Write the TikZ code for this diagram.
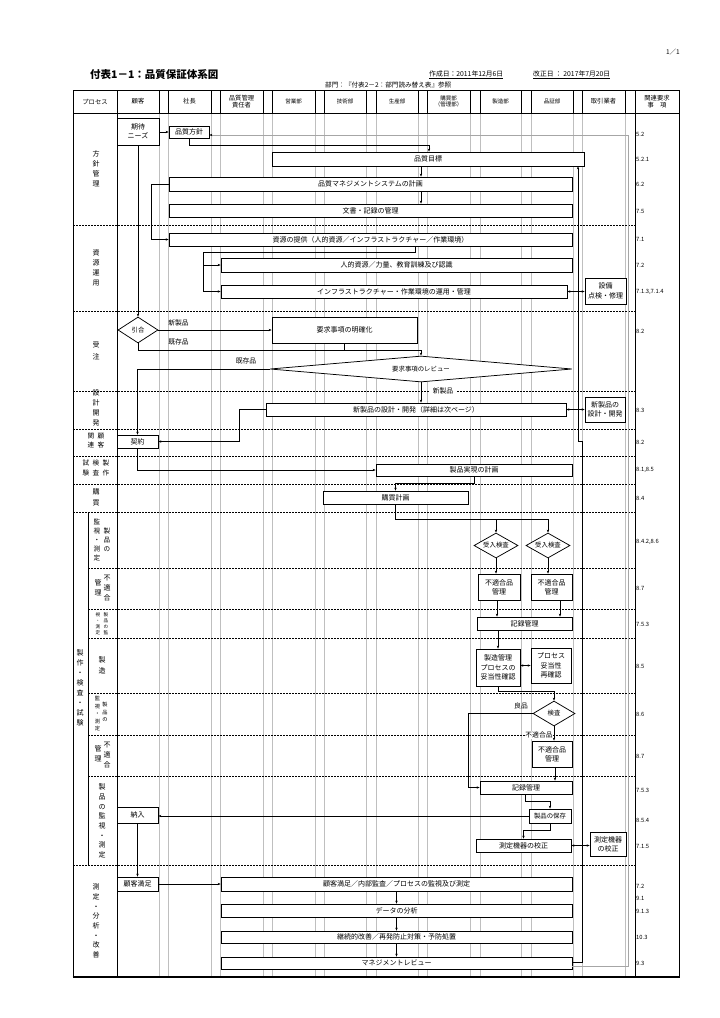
\documentclass[tikz,border=0pt]{standalone}
\usepackage{fontspec}
\setmainfont{Noto Sans CJK JP}
\usetikzlibrary{arrows.meta,shapes.geometric}
\begin{document}
\begin{tikzpicture}[x=1pt,y=-1pt,
  bx/.style={draw,line width=0.75pt,fill=white,inner sep=0pt,align=center,font=\fontsize{7}{9.3}\selectfont},
  dm/.style={bx,shape=diamond,font=\fontsize{6.4}{7}\selectfont},
  sz/.style 2 args={minimum width=#1pt,minimum height=#2pt},
  arr/.style={line width=0.55pt,-{Stealth[length=3pt,width=2.4pt]}},
  darr/.style={line width=0.55pt,{Stealth[length=3pt,width=2.4pt]}-{Stealth[length=3pt,width=2.4pt]}},
  garr/.style={gray!70,line width=0.55pt,-{Stealth[length=3pt,width=2.4pt,black]}},
  ln/.style={line width=0.55pt},
  sep/.style={dash pattern=on 2pt off 1pt,line width=0.6pt},
  vl/.style={gray!50,line width=0.4pt},
  lbl/.style={inner sep=0.5pt,font=\fontsize{6.8}{7}\selectfont},
  req/.style={anchor=west,inner sep=0pt,font=\fontsize{5.8}{6}\selectfont},
  vt/.style={inner sep=0pt,align=center,font=\fontsize{7}{10}\selectfont},
  hd/.style={inner sep=0pt,align=center,font=\fontsize{6.3}{7.5}\selectfont},
  hds/.style={hd,font=\fontsize{5.5}{6.8}\selectfont}
]
\useasboundingbox (0,0) rectangle (720,1018);
\fill[white] (0,0) rectangle (720,1018);

% ---- grid ----
\foreach \x in {159,168,211,220,263,272,315,324,366,376,418,427,470,480,521,531,573,582,625} {
  \draw[vl] (\x,113) -- (\x,977);
  \draw[line width=0.4pt] (\x,90) -- (\x,113);
}
\foreach \y in {225,311,391,429,456,484,512,865} \draw[sep] (73,\y) -- (635,\y);
\foreach \y in {568,609,638,693,735,776} \draw[sep] (88,\y) -- (635,\y);
\draw[line width=0.6pt] (88,512) -- (88,865);
\draw[line width=1pt] (73,90) rectangle (679,977);
\draw[line width=1.8pt] (72.5,977) -- (679.5,977);
\draw[line width=1pt] (73,113) -- (679,113);
\draw[line width=1pt] (117,90) -- (117,977);
\draw[line width=1pt] (635,90) -- (635,977);

% ---- top texts ----
\node[anchor=east,inner sep=0pt,font=\fontsize{6.5}{7}\selectfont] (pg) at (680,52) {1／1};
\node[anchor=west,inner sep=0pt,font=\bfseries\fontsize{10.5}{11}\selectfont] (title) at (90,75) {付表1－1：品質保証体系図};
\node[anchor=west,inner sep=0pt,font=\fontsize{6.8}{7}\selectfont] (made) at (429,75) {\underline{作成日：2011年12月6日}};
\node[anchor=west,inner sep=0pt,font=\fontsize{6.8}{7}\selectfont] (rev) at (533,75) {\underline{改正日 ： 2017年7月20日}};
\node[anchor=west,inner sep=0pt,font=\fontsize{6.6}{7}\selectfont] (dept) at (325,85) {部門：『付表2－2：部門読み替え表』参照};

% ---- header ----
\node[hd] (hproc) at (95,101.5) {プロセス};
\node[hd] (hcust) at (138,101.5) {顧客};
\node[hd] (hpres) at (189.5,101.5) {社長};
\node[hd] (hqm) at (241.5,101.5) {品質管理\\責任者};
\node[hds] (hsales) at (293.5,101.5) {営業部};
\node[hds] (htech) at (345,101.5) {技術部};
\node[hds] (hprod) at (397,101.5) {生産部};
\node[hds] (hpur) at (448.5,101.5) {購買部\\（管理部）};
\node[hds] (hmfg) at (500.5,101.5) {製造部};
\node[hds] (hqa) at (552,101.5) {品証部};
\node[hd] (hven) at (603.5,101.5) {取引業者};
\node[hd] (hreq) at (657,101.5) {関連要求\\事　項};

% ---- left labels ----
\node[vt] (lhoshin) at (96,169) {方\\針\\管\\理};
\node[vt] (lshigen) at (96,268) {資\\源\\運\\用};
\node[vt,font=\fontsize{7}{12}\selectfont] (ljuchu) at (96,351) {受\\注};
\node[vt] (lsekkei) at (96,408) {設\\計\\開\\発};
\node[vt,font=\fontsize{6.6}{9}\selectfont] (lkk1) at (91,440.5) {関\\連};
\node[vt,font=\fontsize{6.6}{9}\selectfont] (lkk2) at (101,440.5) {顧\\客};
\node[vt,font=\fontsize{6.6}{9.5}\selectfont] (lsk1) at (86,468) {試\\験};
\node[vt,font=\fontsize{6.6}{9.5}\selectfont] (lsk2) at (96,468) {検\\査};
\node[vt,font=\fontsize{6.6}{9.5}\selectfont] (lsk3) at (106,468) {製\\作};
\node[vt,font=\fontsize{7}{11}\selectfont] (lkobai) at (96,497.5) {購\\買};
\node[vt,font=\fontsize{6.6}{9}\selectfont] (lkan1a) at (97,540) {監\\視\\・\\測\\定};
\node[vt,font=\fontsize{6.6}{9}\selectfont] (lkan1b) at (107,540) {製\\品\\の};
\node[vt,font=\fontsize{7}{10}\selectfont] (lnc1a) at (98,588) {管\\理};
\node[vt,font=\fontsize{7}{10}\selectfont] (lnc1b) at (107,588) {不\\適\\合};
\node[vt,font=\fontsize{4.6}{6}\selectfont] (lkan2a) at (98,623.5) {視\\・\\測\\定};
\node[vt,font=\fontsize{4.6}{6}\selectfont] (lkan2b) at (106,623.5) {製\\品\\の\\監};
\node[vt,font=\fontsize{7}{11}\selectfont] (lseizo) at (102,665.5) {製\\造};
\node[vt,font=\fontsize{5.2}{7.5}\selectfont] (lkan3a) at (97.5,714) {監\\視\\・\\測\\定};
\node[vt,font=\fontsize{5.2}{7.5}\selectfont] (lkan3b) at (105,712) {製\\品\\の};
\node[vt,font=\fontsize{7}{10}\selectfont] (lnc2a) at (98,754) {管\\理};
\node[vt,font=\fontsize{7}{10}\selectfont] (lnc2b) at (107,755) {不\\適\\合};
\node[vt,font=\fontsize{7}{9.7}\selectfont] (lkan4) at (102,821) {製\\品\\の\\監\\視\\・\\測\\定};
\node[vt] (lsaku) at (80,688) {製\\作\\・\\検\\査\\・\\試\\験};
\node[vt,font=\fontsize{7}{9.7}\selectfont] (lsoku) at (96,921) {測\\定\\・\\分\\析\\・\\改\\善};

% ---- requirement numbers ----
\node[req] (r1) at (636,134) {5.2};
\node[req] (r2) at (636,159) {5.2.1};
\node[req] (r3) at (636,184) {6.2};
\node[req] (r4) at (636,211) {7.5};
\node[req] (r5) at (636,239) {7.1};
\node[req] (r6) at (636,265.5) {7.2};
\node[req] (r7) at (636,291.5) {7.1.3,7.1.4};
\node[req] (r8) at (636,331) {8.2};
\node[req] (r9) at (636,410.5) {8.3};
\node[req] (r10) at (636,442.5) {8.2};
\node[req] (r11) at (636,470) {8.1,8.5};
\node[req] (r12) at (636,498.5) {8.4};
\node[req] (r13) at (636,541.5) {8.4.2,8.6};
\node[req] (r14) at (636,588) {8.7};
\node[req] (r15) at (636,624) {7.5.3};
\node[req] (r16) at (636,666) {8.5};
\node[req] (r17) at (636,714) {8.6};
\node[req] (r18) at (636,756) {8.7};
\node[req] (r19) at (636,790) {7.5.3};
\node[req] (r20) at (636,820) {8.5.4};
\node[req] (r21) at (636,846) {7.1.5};
\node[req] (r22) at (636,886) {7.2};
\node[req] (r23) at (636,898) {9.1};
\node[req] (r24) at (636,911) {9.1.3};
\node[req] (r25) at (636,937) {10.3};
\node[req] (r26) at (636,963) {9.3};

% ---- connector labels ----
\node[lbl] (l1) at (178.5,323) {新製品};
\node[lbl] (l2) at (178.5,342) {既存品};
\node[lbl] (l3) at (246,361) {既存品};
\node[lbl,fill=white,inner xsep=4pt] (l4) at (443,391) {新製品};
\node[lbl] (l5) at (521,706) {良品};
\node[lbl,fill=white] (l6) at (539,735) {不適合品};

% ---- boxes ----
\node[bx,sz={42}{27}] (needs) at (138,131.5) {期待\\ニーズ};
\node[bx,sz={40}{12}] (policy) at (189,132) {品質方針};
\node[bx,sz={312}{14}] (goal) at (428,159) {品質目標};
\node[bx,sz={403}{14}] (qms) at (370.5,184) {品質マネジメントシステムの計画};
\node[bx,sz={403}{13}] (doc) at (370.5,210.5) {文書・記録の管理};
\node[bx,sz={403}{13}] (res) at (370.5,239.5) {資源の提供（人的資源／インフラストラクチャー／作業環境）};
\node[bx,sz={351}{14}] (human) at (396.5,265) {人的資源／力量、教育訓練及び認識};
\node[bx,sz={346}{13}] (infra) at (394,291.5) {インフラストラクチャー・作業環境の運用・管理};
\node[bx,sz={41}{26}] (equip) at (605.5,291) {設備\\点検・修理};
\node[dm,aspect=1.5,sz={40}{26}] (inq) at (138,330) {引合};
\node[bx,sz={145}{26}] (clar) at (344.5,330) {要求事項の明確化};
\node[dm,aspect=8,sz={302}{26}] (review) at (421,369) {要求事項のレビュー};
\node[bx,sz={300}{13}] (design) at (416,409.5) {新製品の設計・開発（詳細は次ページ）};
\node[bx,sz={40}{25}] (vdesign) at (605,409.5) {新製品の\\設計・開発};
\node[bx,sz={41}{13}] (contract) at (137.5,441.5) {契約};
\node[bx,sz={196}{12}] (plan) at (474,470) {製品実現の計画};
\node[bx,sz={145}{13}] (purch) at (395.5,497.5) {購買計画};
\node[dm,aspect=2,sz={44}{25}] (insp1) at (496,545.5) {受入検査};
\node[dm,aspect=2,sz={44}{25}] (insp2) at (548,545.5) {受入検査};
\node[bx,sz={42}{26}] (nc1) at (499,587) {不適合品\\管理};
\node[bx,sz={41}{26}] (nc2) at (551.5,587) {不適合品\\管理};
\node[bx,sz={95}{13}] (rec1) at (524.5,623.5) {記録管理};
\node[bx,sz={44}{37}] (mfg) at (498,667.5) {製造管理\\プロセスの\\妥当性確認};
\node[bx,sz={40}{35}] (reval) at (551,665.5) {プロセス\\妥当性\\再確認};
\node[dm,aspect=2,sz={42}{25}] (check) at (554,713.5) {検査};
\node[bx,sz={40}{26}] (nc3) at (552,754) {不適合品\\管理};
\node[bx,sz={92}{13}] (rec2) at (526,787.5) {記録管理};
\node[bx,sz={42}{14},font=\fontsize{6.4}{7}\selectfont] (store) at (550,816) {製品の保存};
\node[bx,sz={41}{16}] (deliv) at (137.5,815) {納入};
\node[bx,sz={95}{13}] (calib) at (523.5,845.5) {測定機器の校正};
\node[bx,sz={36}{24}] (vcalib) at (608,844) {測定機器\\の校正};
\node[bx,sz={41}{14}] (cs) at (137.5,884) {顧客満足};
\node[bx,sz={351}{14}] (audit) at (396.5,884) {顧客満足／内部監査／プロセスの監視及び測定};
\node[bx,sz={351}{13}] (data) at (396.5,910.5) {データの分析};
\node[bx,sz={351}{12}] (imp) at (396.5,937) {継続的改善／再発防止対策・予防処置};
\node[bx,sz={351}{12}] (mrev) at (396.5,963) {マネジメントレビュー};

% ---- connectors ----
\coordinate (spine) at (421,0);
\coordinate (fbx) at (578,441);
\draw[arr] (needs.east |- policy.west) -- (policy.west);
\draw[arr] (policy.south) -- ++(0,7) -| ([xshift=1pt]goal.north);
\draw[arr] (goal.south -| spine) -- (qms.north -| spine);
\draw[arr] (qms.south -| spine) -- (doc.north -| spine);
\draw[arr] (qms.west) -- ++(-17,0) |- (res.west);
\draw[ln] ([xshift=44.5pt]res.south) -- ++(0,6) -| ([xshift=-17pt]infra.west);
\draw[arr] ([xshift=-17pt]infra.west) -- (infra.west);
\draw[arr] ([xshift=-17pt]human.west) -- (human.west);
\draw[darr] (infra.east) -- (infra.east -| equip.west);
\draw[arr] (needs.south) -- (inq.north);
\draw[arr] (inq.east) -- (clar.west);
\draw[arr] (inq.south) -- ++(0,7) -| (review.north);
\draw[ln] (clar.south) -- ++(0,7);
\draw[arr] (review.west) -| (contract.north);
\draw[arr] (review.south) -- (review.south |- design.north);
\draw[darr] (design.east) -- (design.east -| vdesign.west);
\draw[arr] (design.west) -- ++(-26,0) |- (contract.east);
\draw[arr] (contract.south) |- (plan.west);
\draw[arr] (plan.south) -- ++(0,7) -| (purch.north);
\draw[arr] (purch.south) -- ++(0,15) -| (insp2.north);
\draw[arr] (purch.south) -- ++(0,15) -| (insp1.north);
\draw[arr] (insp1.south) -- (insp1.south |- nc1.north);
\draw[arr] (insp2.south) -- (insp2.south |- nc2.north);
\draw[arr] ([xshift=-2pt]nc1.south) -- ([xshift=-2pt]nc1.south |- rec1.north);
\draw[arr] ([xshift=8.5pt]nc2.south) -- ([xshift=8.5pt]nc2.south |- rec1.north);
\draw[arr] (rec1.south -| mfg.north) -- (mfg.north);
\draw[darr] (mfg.east |- reval.west) -- (reval.west);
\draw[arr] (mfg.south) -- ++(0,5) -| (check.north);
\draw[arr] (check.west) -- ++(-64,0) |- (rec2.west);
\draw[arr] (check.south) -- (check.south |- nc3.north);
\draw[arr] ([xshift=3pt]nc3.south) -- ([xshift=3pt]nc3.south |- rec2.north);
\draw[arr] ([xshift=-1pt]rec2.south) -- ++(0,7) -| (store.north);
\draw[arr] (store.west) -- (store.west -| deliv.east);
\draw[arr] (store.south) -- ++(0,7) -| (calib.north);
\draw[darr] (calib.east) -- (calib.east -| vcalib.west);
\draw[arr] (deliv.south) -- (cs.north);
\draw[arr] (cs.east) -- (audit.west);
\draw[arr] (audit.south) -- (data.north);
\draw[arr] (data.south) -- (imp.north);
\draw[arr] (imp.south) -- (mrev.north);
\draw[arr] ([yshift=1pt]mrev.east) -| ([xshift=4pt]fbx) -- (fbx) -- (fbx |- goal.south);
\draw[garr] ([yshift=-3pt]mrev.east) -- ++(56,0) |- ([yshift=-3pt]policy.east);
\end{tikzpicture}
\end{document}
